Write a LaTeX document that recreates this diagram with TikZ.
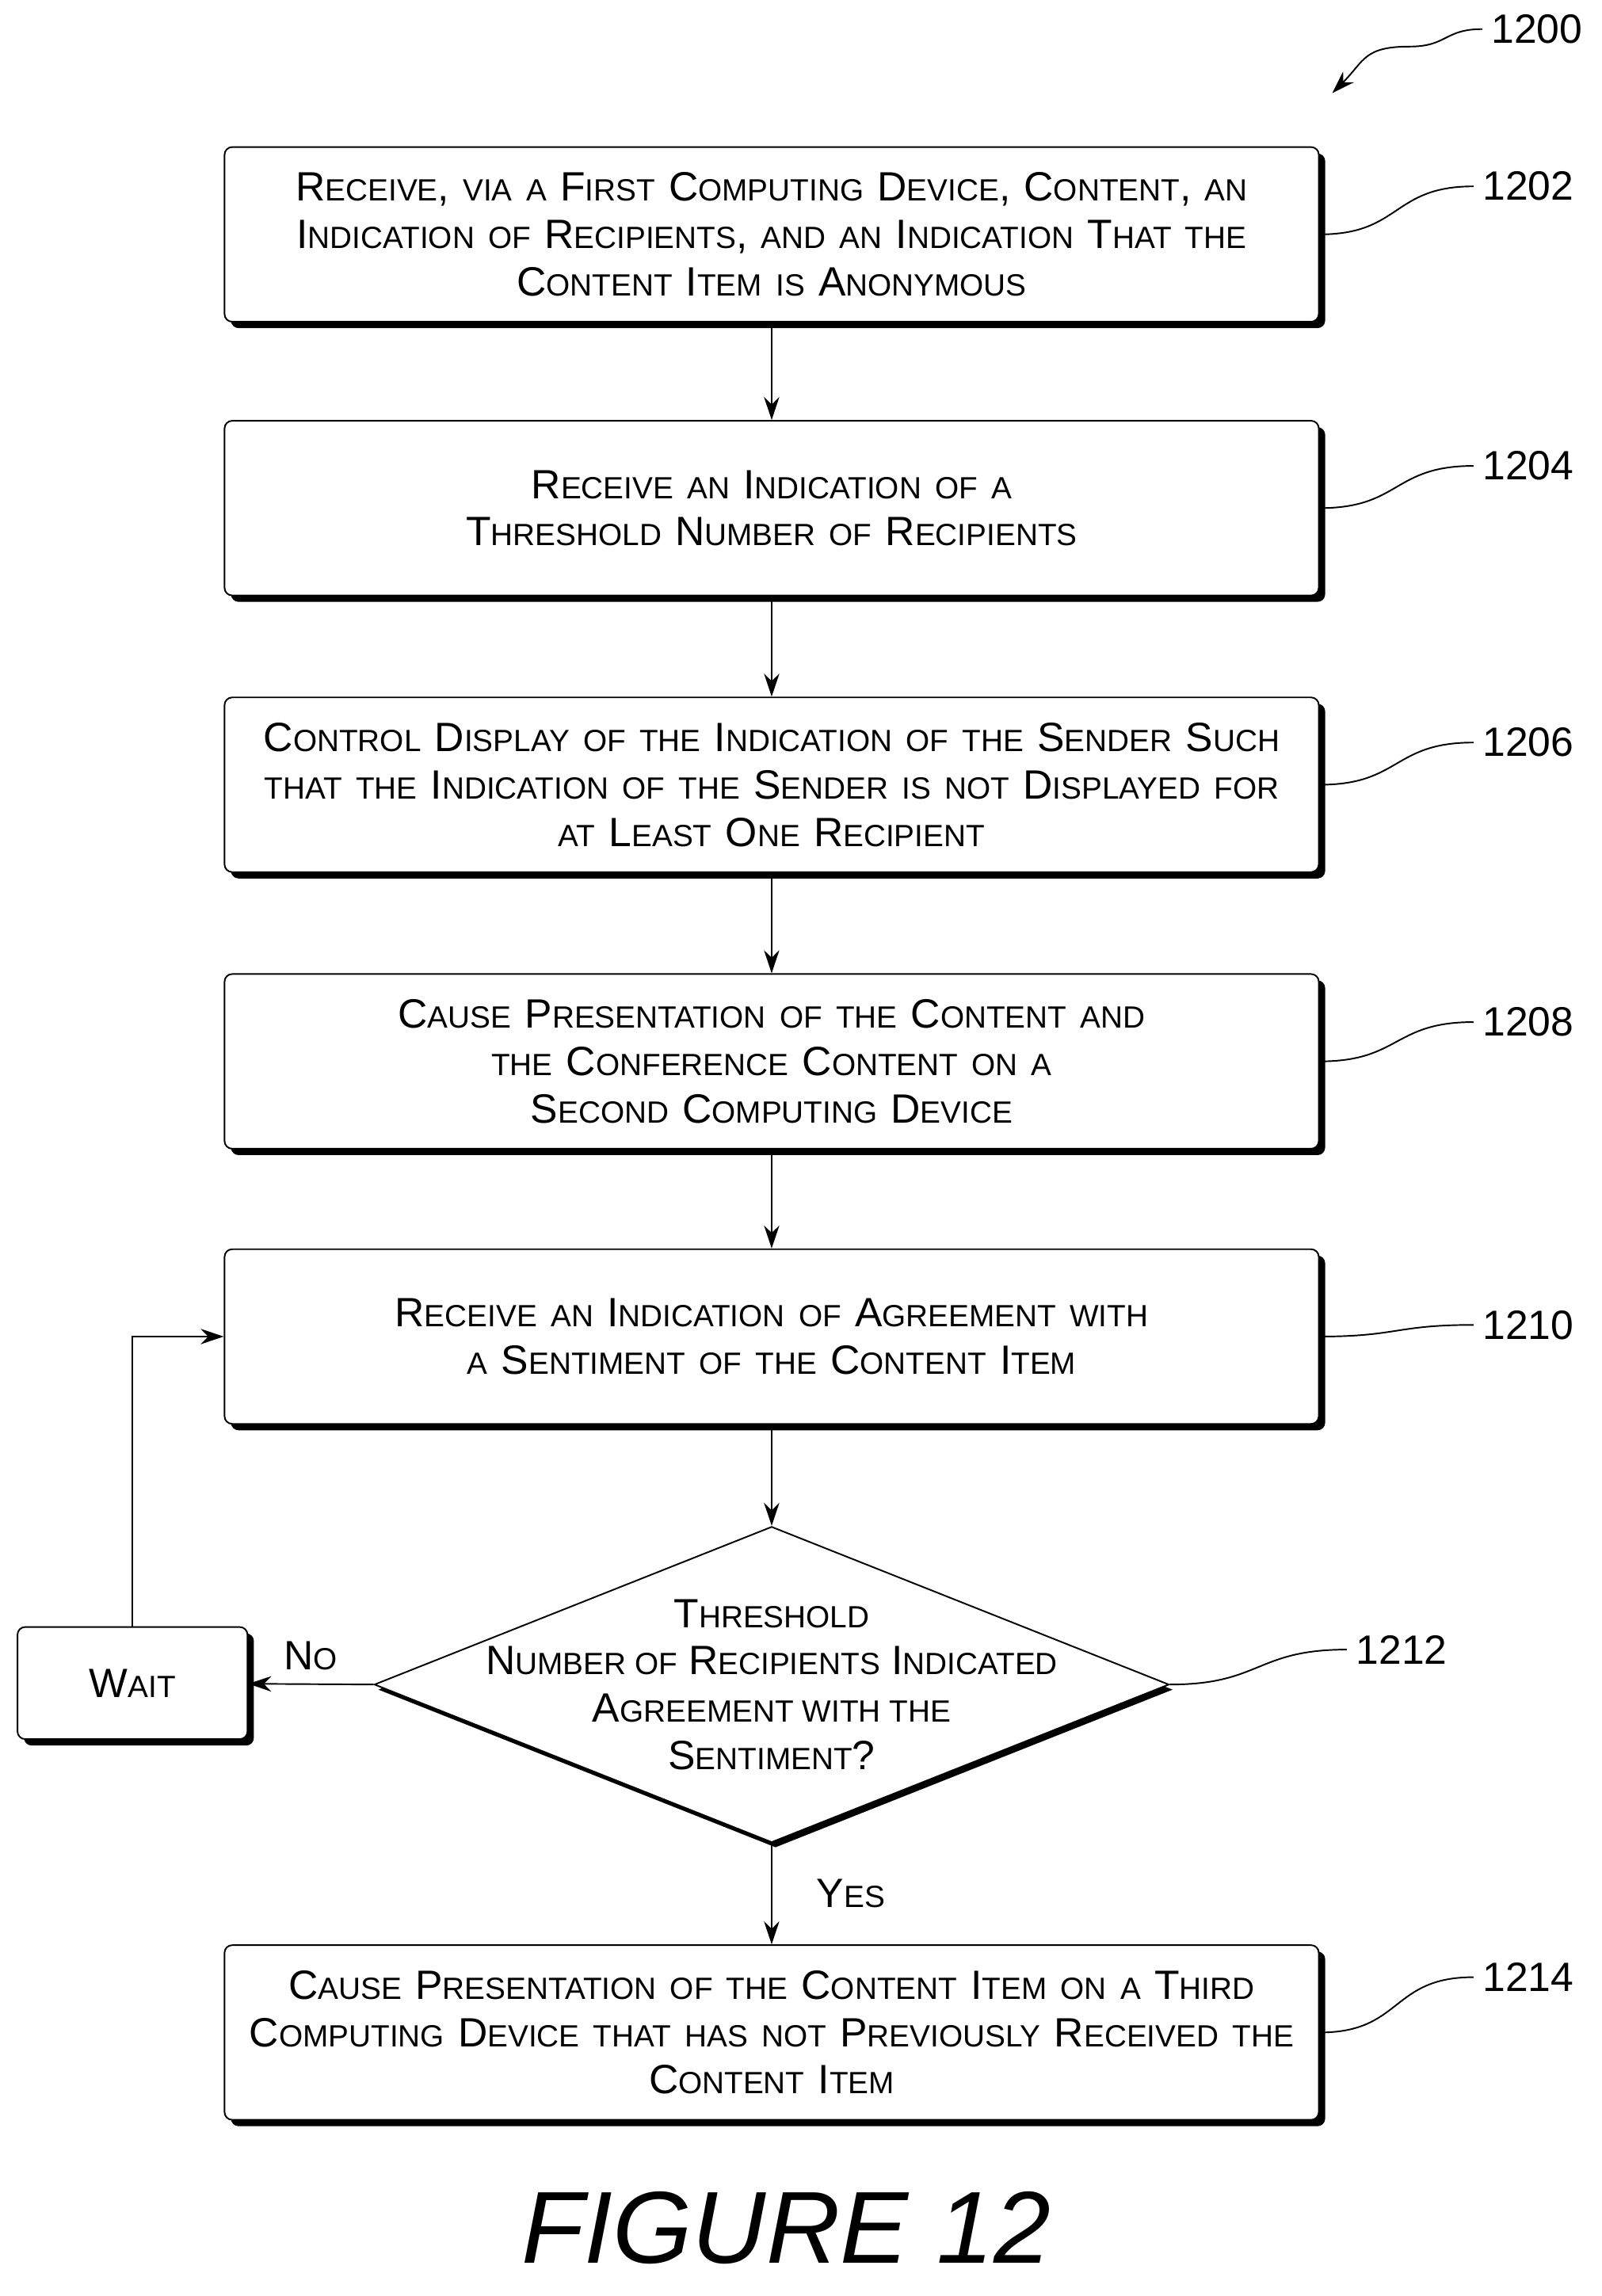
\documentclass[tikz,border=0pt]{standalone}
\usepackage{fontspec}
\setmainfont{Liberation Sans}
\usetikzlibrary{arrows.meta,positioning,shapes.geometric,shadows}
\newcommand\s[1]{{\fontsize{12}{18}\selectfont\MakeUppercase{#1}}}
\begin{document}
\begin{tikzpicture}[
    x = 0.02cm, y = -0.02cm, % reference pixels
    > = {Stealth[length=9pt,width=6pt]},
    semithick,
    font = \fontsize{16}{18.5}\selectfont
    ]

    \tikzset{
    flowbox/.style = {draw, fill=white, rounded corners=3pt, align=center,
      minimum width=14.9cm, minimum height=2.4cm, text width=14.8cm,
      drop shadow={opacity=1, fill=black, shadow xshift=2.5pt, shadow yshift=-2.5pt}},
    ref/.style = {anchor=west},
    tag/.style = {semithick, looseness=1.3}
    }
    \useasboundingbox (0,0) rectangle (1100,1577);

    \node[flowbox] (s1202) at (530,161) {R\s{eceive}, \s{via a} F\s{irst} C\s{omputing} D\s{evice}, C\s{ontent}, \s{an}\\ I\s{ndication of} R\s{ecipients}, \s{and an} I\s{ndication} T\s{hat the}\\ C\s{ontent} I\s{tem is} A\s{nonymous}};
    \node[flowbox] (s1204) at (530,349) {R\s{eceive an} I\s{ndication of a}\\ T\s{hreshold} N\s{umber of} R\s{ecipients}};
    \node[flowbox] (s1206) at (530,539) {C\s{ontrol} D\s{isplay of the} I\s{ndication of the} S\s{ender} S\s{uch}\\ \s{that the} I\s{ndication of the} S\s{ender is not} D\s{isplayed for}\\ \s{at} L\s{east} O\s{ne} R\s{ecipient}};
    \node[flowbox] (s1208) at (530,729) {C\s{ause} P\s{resentation of the} C\s{ontent and}\\ \s{the} C\s{onference} C\s{ontent on a}\\ S\s{econd} C\s{omputing} D\s{evice}};
    \node[flowbox] (s1210) at (530,918) {R\s{eceive an} I\s{ndication of} A\s{greement with}\\ \s{a} S\s{entiment of the} C\s{ontent} I\s{tem}};
    \node[diamond, draw, fill=white, minimum width=10.92cm, minimum height=4.34cm, inner sep=0pt,
      drop shadow={opacity=1, fill=black, shadow xshift=1.5pt, shadow yshift=-2pt}] (d1212) at (530,1157) {};
    \node[align=center] (q1212) at (d1212) {T\s{hreshold}\\ N\s{umber of} R\s{ecipients} I\s{ndicated}\\ A\s{greement with the}\\ S\s{entiment}?};
    \node[flowbox] (s1214) at (530,1396) {C\s{ause} P\s{resentation of the} C\s{ontent} I\s{tem on a} T\s{hird}\\ C\s{omputing} D\s{evice that has not} P\s{reviously} R\s{eceived the}\\ C\s{ontent} I\s{tem}};
    \node[flowbox, minimum width=3.16cm, minimum height=1.54cm, text width=2.8cm] (wait) at (91,1156) {W\s{ait}};

    \draw[->] (s1202) -- (s1204);
    \draw[->] (s1204) -- (s1206);
    \draw[->] (s1206) -- (s1208);
    \draw[->] (s1208) -- (s1210);
    \draw[->] (s1210) -- (d1212.north);
    \draw[->] (d1212.south) -- node[right=14pt]{Y\s{es}} (s1214);
    \draw[->] (d1212.west) -- node[above=2pt]{N\s{o}} (wait);
    \draw[->] (wait.north) |- (s1210.west);

    % reference numbers
    \foreach \n/\y in {1202/128, 1204/320, 1206/510, 1208/702, 1210/910, 1214/1358}
      \node[ref] (r\n) at (1012,\y) {\n};
    \node[ref] (r1212) at (925,1133) {1212};
    \node[ref] (r1200) at (1018,20) {1200};
    \foreach \n in {1202,1204,1206,1208,1210,1214}
      \draw[tag] (s\n.east) to[out=0,in=180] (r\n.west);
    \draw[tag] (d1212.east) to[out=0,in=180] (r1212.west);
    \draw[tag,->] (r1200.west) to[out=180,in=0] ++(-50,12) to[out=180,in=45] (915,64);

    \node (fig) at (540,1530) {\fontsize{40}{46}\selectfont\itshape FIGURE 12};
\end{tikzpicture}
\end{document}
